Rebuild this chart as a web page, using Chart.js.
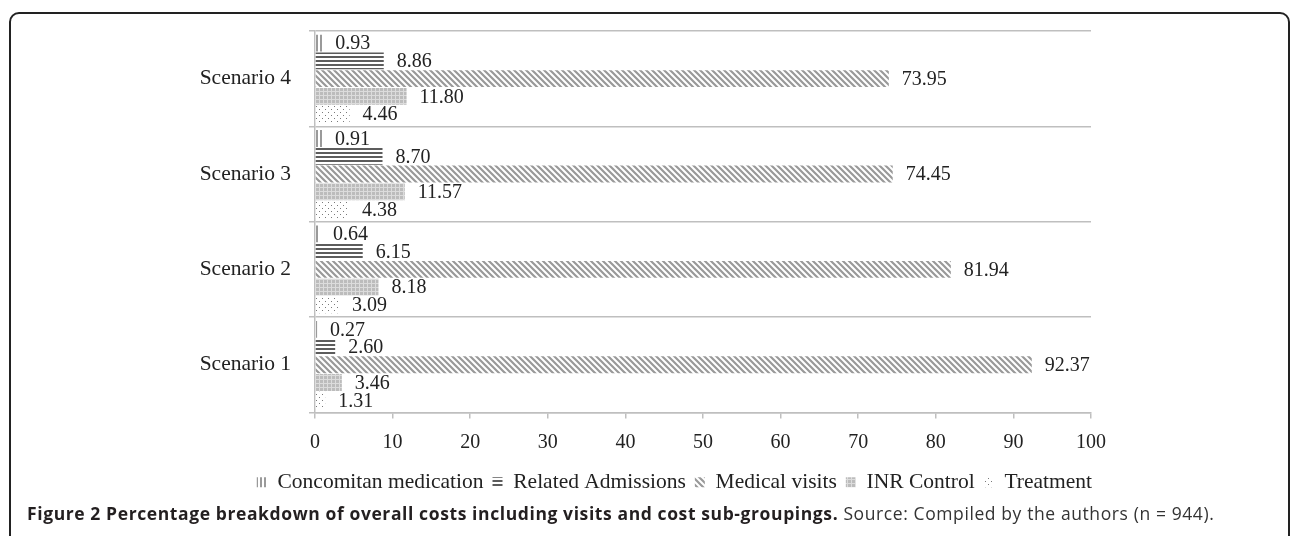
<!DOCTYPE html>
<html>
<head>
<meta charset="utf-8">
<script src="https://cdn.jsdelivr.net/npm/chart.js@4.4.1/dist/chart.umd.min.js"></script>
<style>
  html, body { margin: 0; padding: 0; background: #fff; }
  body { width: 1292px; height: 536px; position: relative; overflow: hidden; }
  #frame {
    position: absolute; left: 9px; top: 12px; width: 1277px; height: 600px;
    border: 2px solid #222; border-radius: 10px;
  }
  #wrap { position: absolute; left: 0; top: 0; width: 1292px; height: 510px; }
  #caption {
    position: absolute; left: 27px; top: 501px; white-space: nowrap;
    font-family: "Open Sans", sans-serif; font-size: 17.5px; letter-spacing: 0.6px; color: #333;
  }
  #caption b { color: #231f20; font-weight: 700; }
</style>
</head>
<body>
<div id="frame"></div>
<div id="wrap"><canvas id="chart"></canvas></div>
<div id="caption"><b>Figure 2 Percentage breakdown of overall costs including visits and cost sub-groupings.</b> Source: Compiled by the authors (n = 944).</div>
<script>
  // values (bottom to top: Scenario 1..4)
  const scenarios = ["Scenario 1", "Scenario 2", "Scenario 3", "Scenario 4"];
  const concomitant = [0.27, 0.64, 0.91, 0.93];
  const admissions = [2.60, 6.15, 8.70, 8.86];
  const medicalVisits = [92.37, 81.94, 74.45, 73.95];
  const inrControl = [3.46, 8.18, 11.57, 11.80];
  const treatment = [1.31, 3.09, 4.38, 4.46];
  const xTicks = [0, 10, 20, 30, 40, 50, 60, 70, 80, 90, 100];

  function makePattern(w, h, draw) {
    const c = document.createElement("canvas");
    c.width = w;
    c.height = h;
    const g = c.getContext("2d");
    g.fillStyle = "#fff";
    g.fillRect(0, 0, w, h);
    draw(g);
    return g.createPattern(c, "repeat");
  }

  const ctx = document.getElementById("chart").getContext("2d");

  const vLines = makePattern(4, 4, (g) => {
    g.fillStyle = "#9a9a9a";
    g.fillRect(0, 0, 2, 4);
  });
  const hLines = makePattern(4, 4, (g) => {
    g.fillStyle = "#5c5c5c";
    g.fillRect(0, 0, 4, 2);
  });
  const diag = makePattern(6, 6, (g) => {
    g.strokeStyle = "#999";
    g.lineWidth = 2.2;
    g.beginPath();
    g.moveTo(-1, -1); g.lineTo(7, 7);
    g.moveTo(-4, 2); g.lineTo(4, 10);
    g.moveTo(2, -4); g.lineTo(10, 4);
    g.stroke();
  });
  const mesh = makePattern(4, 4, (g) => {
    g.fillStyle = "#bcbcbc";
    g.fillRect(0, 0, 4, 4);
    g.fillStyle = "#dcdcdc";
    g.fillRect(3, 0, 1, 4);
    g.fillRect(0, 3, 4, 1);
  });
  const dots = makePattern(6, 6, (g) => {
    g.fillStyle = "#7a7a7a";
    g.fillRect(1, 1, 1, 1);
    g.fillRect(4, 4, 1, 1);
  });

  const valueLabels = {
    id: "valueLabels",
    afterDatasetsDraw(chart) {
      const c = chart.ctx;
      c.save();
      c.font = "20px 'Liberation Serif'";
      c.fillStyle = "#222";
      c.textAlign = "left";
      c.textBaseline = "middle";
      chart.data.datasets.forEach((ds, i) => {
        chart.getDatasetMeta(i).data.forEach((bar, j) => {
          c.fillText(ds.data[j].toFixed(2), bar.x + 13, bar.y + 1);
        });
      });
      c.restore();
    },
  };

  // nudge the legend row right so it ends under the 100 tick
  const legendShift = {
    id: "legendShift",
    afterLayout(chart) {
      chart.legend.left += 10;
      chart.legend.right += 10;
    },
  };

  new Chart(ctx, {
    type: "bar",
    data: {
      labels: scenarios,
      datasets: [
        { label: "Concomitan medication", data: concomitant, backgroundColor: vLines },
        { label: "Related Admissions", data: admissions, backgroundColor: hLines },
        { label: "Medical visits", data: medicalVisits, backgroundColor: diag },
        { label: "INR Control", data: inrControl, backgroundColor: mesh },
        { label: "Treatment", data: treatment, backgroundColor: dots },
      ],
    },
    options: {
      indexAxis: "y",
      responsive: true,
      maintainAspectRatio: false,
      animation: false,
      datasets: {
        bar: { categoryPercentage: 0.93, barPercentage: 0.95, borderWidth: 0 },
      },
      layout: { padding: { top: 29, right: 201, bottom: 7, left: 0 } },
      scales: {
        x: {
          min: 0,
          max: 100,
          afterBuildTicks: (scale) => {
            scale.ticks = xTicks.map((v) => ({ value: v }));
          },
          afterFit: (scale) => { scale.height = 50; },
          grid: { drawOnChartArea: false, tickLength: 6, color: "#bfbfbf", lineWidth: 1.5 },
          border: { color: "#bfbfbf", width: 1.5 },
          ticks: {
            padding: 12,
            color: "#222",
            font: { family: "'Liberation Serif'", size: 20 },
          },
        },
        y: {
          reverse: true,
          afterFit: (scale) => { scale.width = 315; },
          grid: { offset: true, tickLength: 6, color: "#bfbfbf", lineWidth: 1.5 },
          border: { color: "#bfbfbf", width: 1.5 },
          ticks: {
            padding: 18,
            color: "#222",
            font: { family: "'Liberation Serif'", size: 21.5 },
          },
        },
      },
      plugins: {
        tooltip: { enabled: false },
        legend: {
          position: "bottom",
          align: "end",
          labels: {
            boxWidth: 10,
            boxHeight: 10,
            padding: 9,
            color: "#222",
            font: { family: "'Liberation Serif'", size: 21.5 },
          },
        },
      },
    },
    plugins: [valueLabels, legendShift],
  });
</script>
</body>
</html>
